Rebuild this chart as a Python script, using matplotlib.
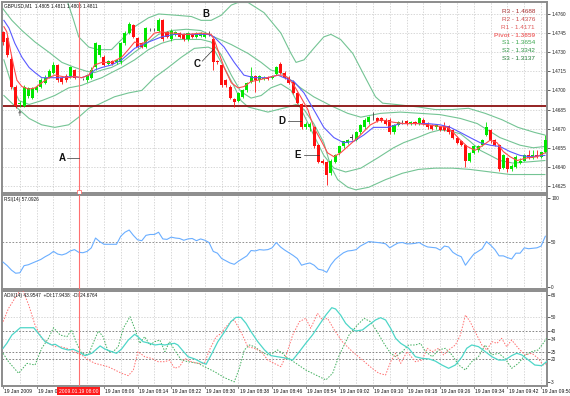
import matplotlib
matplotlib.use('Agg')
import matplotlib.pyplot as plt
import matplotlib.transforms as mtransforms
import numpy as np

# ---------------- data ----------------
O = [1.4746,1.4741,1.4725,1.4703,1.4689,1.4688,1.4696,1.4694,1.4700,1.4703,
     1.4706,1.4710,1.4714,1.4720,1.4710,1.4711,1.4711,1.4716,1.4711,1.4709,
     1.4708,1.4710,1.4718,1.4728,1.4726,1.4721,1.4723,1.4722,1.4722,1.4737,
     1.4745,1.4751,1.4741,1.4737,1.4734,1.4748,1.4748,1.4747,1.4755,1.4746,
     1.4740,1.4744,1.4745,1.4744,1.4740,1.4744,1.4742,1.4743,1.4742,1.4744,
     1.4740,1.4723,1.4720,1.4708,1.4703,1.4693,1.4692,1.4695,1.4700,1.4707,
     1.4711,1.4708,1.4709,1.4710,1.4710,1.4713,1.4721,1.4714,1.4710,1.4707,
     1.4698,1.4689,1.4671,1.4671,1.4671,1.4657,1.4645,1.4644,1.4635,1.4644,
     1.4651,1.4656,1.4659,1.4663,1.4661,1.4667,1.4671,1.4675,1.4678,1.4678,
     1.4678,1.4677,1.4677,1.4667,1.4673,1.4676,1.4676,1.4674,1.4675,1.4674,
     1.4677,1.4674,1.4673,1.4671,1.4671,1.4672,1.4672,1.4669,1.4663,1.4660,
     1.4657,1.4645,1.4651,1.4653,1.4657,1.4665,1.4669,1.4661,1.4657,1.4639,
     1.4647,1.4638,1.4640,1.4643,1.4645,1.4649,1.4647,1.4649,1.4648,1.4652]
H = [1.4747,1.4743,1.4727,1.4704,1.4692,1.4704,1.4703,1.4703,1.4704,1.4710,
     1.4712,1.4717,1.4722,1.4721,1.4711,1.4713,1.4719,1.4717,1.4712,1.4710,
     1.4713,1.4718,1.4738,1.4736,1.4728,1.4724,1.4724,1.4725,1.4738,1.4747,
     1.4754,1.4752,1.4742,1.4738,1.4750,1.4749,1.4749,1.4757,1.4756,1.4747,
     1.4748,1.4747,1.4746,1.4745,1.4746,1.4745,1.4746,1.4746,1.4746,1.4747,
     1.4742,1.4724,1.4721,1.4709,1.4704,1.4694,1.4699,1.4701,1.4707,1.4718,
     1.4712,1.4712,1.4711,1.4711,1.4712,1.4719,1.4722,1.4715,1.4711,1.4708,
     1.4699,1.4690,1.4675,1.4675,1.4672,1.4658,1.4646,1.4645,1.4646,1.4650,
     1.4656,1.4660,1.4662,1.4666,1.4668,1.4674,1.4678,1.4680,1.4683,1.4679,
     1.4679,1.4678,1.4678,1.4674,1.4676,1.4677,1.4677,1.4676,1.4676,1.4679,
     1.4678,1.4675,1.4674,1.4674,1.4672,1.4675,1.4673,1.4670,1.4664,1.4661,
     1.4658,1.4652,1.4657,1.4657,1.4662,1.4675,1.4670,1.4662,1.4658,1.4650,
     1.4648,1.4642,1.4649,1.4647,1.4650,1.4653,1.4653,1.4653,1.4652,1.4665]
Lo = [1.4736,1.4726,1.4701,1.4686,1.4687,1.4687,1.4694,1.4693,1.4699,1.4702,
      1.4705,1.4710,1.4713,1.4707,1.4705,1.4707,1.4710,1.4709,1.4709,1.4708,
      1.4707,1.4709,1.4716,1.4726,1.4719,1.4720,1.4720,1.4721,1.4721,1.4736,
      1.4744,1.4741,1.4733,1.4733,1.4733,1.4747,1.4747,1.4746,1.4739,1.4741,
      1.4739,1.4743,1.4741,1.4739,1.4739,1.4741,1.4741,1.4742,1.4741,1.4743,
      1.4716,1.4721,1.4703,1.4703,1.4693,1.4687,1.4691,1.4694,1.4699,1.4706,
      1.4699,1.4707,1.4708,1.4708,1.4709,1.4712,1.4713,1.4709,1.4705,1.4697,
      1.4689,1.4670,1.4670,1.4668,1.4655,1.4643,1.4642,1.4626,1.4634,1.4643,
      1.4649,1.4655,1.4658,1.4661,1.4660,1.4666,1.4670,1.4674,1.4677,1.4675,
      1.4675,1.4673,1.4666,1.4666,1.4672,1.4674,1.4673,1.4673,1.4673,1.4673,
      1.4673,1.4670,1.4669,1.4670,1.4668,1.4668,1.4666,1.4662,1.4658,1.4656,
      1.4640,1.4644,1.4650,1.4652,1.4656,1.4664,1.4659,1.4656,1.4637,1.4638,
      1.4636,1.4637,1.4639,1.4642,1.4645,1.4646,1.4646,1.4647,1.4647,1.4651]
C = [1.4738,1.4728,1.4703,1.4688,1.4690,1.4703,1.4702,1.4702,1.4703,1.4708,
     1.4710,1.4715,1.4720,1.4708,1.4707,1.4708,1.4718,1.4710,1.4711,1.4709,
     1.4712,1.4716,1.4737,1.4736,1.4720,1.4723,1.4721,1.4724,1.4737,1.4745,
     1.4752,1.4742,1.4734,1.4734,1.4749,1.4748,1.4748,1.4755,1.4740,1.4742,
     1.4747,1.4746,1.4742,1.4740,1.4745,1.4742,1.4745,1.4745,1.4745,1.4744,
     1.4722,1.4722,1.4704,1.4704,1.4694,1.4691,1.4698,1.4700,1.4706,1.4711,
     1.4708,1.4711,1.4710,1.4709,1.4711,1.4718,1.4714,1.4710,1.4706,1.4698,
     1.4690,1.4671,1.4674,1.4674,1.4656,1.4644,1.4643,1.4634,1.4645,1.4649,
     1.4656,1.4660,1.4661,1.4663,1.4667,1.4673,1.4677,1.4679,1.4678,1.4676,
     1.4676,1.4674,1.4667,1.4673,1.4675,1.4676,1.4674,1.4675,1.4674,1.4678,
     1.4674,1.4671,1.4670,1.4673,1.4669,1.4669,1.4667,1.4663,1.4659,1.4657,
     1.4645,1.4651,1.4656,1.4656,1.4661,1.4671,1.4660,1.4657,1.4638,1.4649,
     1.4638,1.4641,1.4648,1.4645,1.4649,1.4647,1.4649,1.4648,1.4652,1.4661]

# moving averages (bar position, price)
ma_fast_x = [0.2,0.9,1.6,2.6,3.3,4.5,6.2,7.6,9.2,10.9,12.3,14.0,15.6,17.0,18.7,20.4,21.8,23.5,25.8,28.2,
             29.8,31.3,32.9,34.6,36.0,37.7,39.3,40.8,42.4,44.1,47.1,49.5,50.2,51.4,52.6,54.3,55.9,57.3,59.0,60.6,
             63.0,65.4,66.6,67.8,69.2,70.8,72.5,73.9,75.6,77.2,78.7,80.3,82.0,84.4,87.4,89.8,92.9,95.3,98.6,101.0,
             103.3,105.7,107.1,108.8,110.4,112.3,114.2,115.9,117.5,119.0,120.6,122.3,124.6,127.0,128.9]
ma_fast_y = [1.4750,1.4746,1.4734,1.4718,1.4708,1.4703,1.4701,1.4702,1.4706,1.4710,1.4712,1.4711,1.4710,1.4711,1.4710,1.4712,1.4720,1.4722,1.4722,1.4726,
             1.4732,1.4738,1.4736,1.4740,1.4745,1.4746,1.4745,1.4745,1.4744,1.4744,1.4745,1.4744,1.4740,1.4729,1.4718,1.4706,1.4702,1.4703,1.4707,1.4708,
             1.4710,1.4712,1.4712,1.4710,1.4704,1.4695,1.4685,1.4671,1.4661,1.4651,1.4648,1.4651,1.4656,1.4663,1.4673,1.4677,1.4675,1.4674,1.4674,1.4673,
             1.4672,1.4671,1.4667,1.4661,1.4656,1.4653,1.4657,1.4661,1.4659,1.4652,1.4648,1.4645,1.4647,1.4648,1.4651]
ma_slow_x = [0.2,1.4,2.8,4.5,6.2,7.6,9.2,11.6,14.0,16.3,18.7,20.4,21.8,23.5,25.8,28.2,31.3,34.6,37.7,40.8,
             44.1,48.8,50.2,52.6,55.0,57.3,59.7,63.0,65.4,66.8,69.2,71.6,73.9,76.3,78.7,81.0,83.4,85.8,88.1,91.5,
             94.5,97.6,101.0,104.0,106.4,108.8,111.1,113.5,115.9,118.2,120.6,123.0,125.3,128.9]
ma_slow_y = [1.4755,1.4749,1.4737,1.4726,1.4718,1.4714,1.4710,1.4710,1.4710,1.4711,1.4710,1.4712,1.4716,1.4718,1.4720,1.4724,1.4733,1.4738,1.4742,1.4744,
             1.4744,1.4744,1.4742,1.4734,1.4722,1.4712,1.4710,1.4710,1.4712,1.4710,1.4707,1.4698,1.4685,1.4671,1.4663,1.4659,1.4660,1.4665,1.4671,1.4671,
             1.4674,1.4674,1.4674,1.4673,1.4671,1.4667,1.4663,1.4659,1.4657,1.4656,1.4652,1.4649,1.4648,1.4649]

# Bollinger-type envelopes (bar position, price)
wide_up_x = [9.2,12.8,15.2,16.8,18.0,20.4,22.7,25.8,28.2,31.3,34.6,37.0,41.2,44.8,47.1,49.5,51.9,54.3,55.9,58.3,
             62.1,66.1,68.5,69.7,71.6,73.9,76.3,78.0,80.3,83.2,86.2,88.6,90.3,93.4,98.8,102.8,106.9,110.7,114.7,118.7,
             122.5,126.5,128.9]
wide_up_y = [1.4798,1.4780,1.4771,1.4755,1.4742,1.4734,1.4732,1.4732,1.4740,1.4750,1.4757,1.4760,1.4759,1.4758,1.4755,1.4755,1.4759,1.4767,1.4769,1.4769,
             1.4761,1.4745,1.4729,1.4722,1.4724,1.4733,1.4742,1.4744,1.4740,1.4729,1.4710,1.4695,1.4690,1.4689,1.4687,1.4685,1.4685,1.4686,1.4682,1.4677,
             1.4671,1.4667,1.4665]
wide_lo_x = [0.2,2.1,3.8,6.2,9.2,12.3,15.6,18.0,20.4,22.7,26.5,29.8,33.0,36.0,39.3,42.4,45.5,48.8,50.2,52.6,
             55.0,56.6,58.3,60.7,63.0,65.4,67.8,69.7,71.6,73.9,76.3,78.0,79.6,82.0,83.9,87.0,91.0,95.0,98.8,102.8,
             106.9,111.1,115.9,120.6,125.3,128.9]
wide_lo_y = [1.4696,1.4690,1.4685,1.4678,1.4673,1.4671,1.4673,1.4679,1.4686,1.4689,1.4695,1.4698,1.4700,1.4710,1.4718,1.4726,1.4733,1.4734,1.4732,1.4718,
             1.4703,1.4692,1.4687,1.4685,1.4683,1.4685,1.4687,1.4689,1.4685,1.4674,1.4659,1.4640,1.4630,1.4624,1.4622,1.4624,1.4630,1.4635,1.4638,1.4639,
             1.4639,1.4638,1.4636,1.4634,1.4634,1.4634]
narrow_up_x = [0.0,2.1,4.5,7.6,10.9,14.0,17.1,19.9,21.8,23.5,25.8,28.2,31.3,34.6,37.0,40.0,43.6,47.1,50.2,54.3,
               58.3,61.4,63.7,66.1,68.5,70.8,73.9,78.0,82.0,85.1,89.8,94.5,99.3,104.0,108.8,112.8,118.2,123.0,126.1,128.9]
narrow_up_y = [1.4764,1.4755,1.4747,1.4738,1.4730,1.4722,1.4718,1.4715,1.4714,1.4716,1.4718,1.4722,1.4730,1.4738,1.4744,1.4747,1.4748,1.4747,1.4742,1.4736,
               1.4729,1.4722,1.4716,1.4714,1.4708,1.4702,1.4695,1.4688,1.4682,1.4679,1.4682,1.4683,1.4682,1.4681,1.4678,1.4674,1.4663,1.4657,1.4655,1.4656]
narrow_lo_x = [0.2,2.1,3.8,6.2,9.2,12.3,15.6,18.7,21.8,23.5,25.8,28.2,31.3,34.6,37.7,40.8,44.1,47.1,49.5,51.9,
               54.3,56.6,59.0,61.4,63.7,66.1,68.5,70.8,73.9,76.3,78.7,81.5,85.1,89.1,92.9,95.3,98.6,101.6,104.0,106.4,
               108.8,111.1,113.5,115.9,118.2,121.3,125.3,128.9]
narrow_lo_y = [1.4724,1.4704,1.4692,1.4689,1.4692,1.4696,1.4702,1.4704,1.4708,1.4710,1.4714,1.4718,1.4724,1.4732,1.4737,1.4740,1.4740,1.4740,1.4738,1.4728,
               1.4712,1.4699,1.4694,1.4696,1.4702,1.4705,1.4700,1.4686,1.4665,1.4649,1.4639,1.4636,1.4639,1.4647,1.4655,1.4659,1.4663,1.4667,1.4669,1.4668,
               1.4666,1.4660,1.4653,1.4649,1.4645,1.4643,1.4644,1.4645]

r3_level = 1.4688
pivot_names = ['R3', 'R2', 'R1', 'Pivot', 'S1', 'S2', 'S3']
pivot_values = [1.4688, 1.4376, 1.4171, 1.3859, 1.3654, 1.3342, 1.3137]
price_ticks = [1.4760, 1.4745, 1.4730, 1.4715, 1.4700, 1.4685, 1.4670, 1.4655, 1.4640, 1.4625]

rsi = [28,24,19,15.5,16,24,25,27,29,31,
       34,36.5,40,37,36,37.5,40.5,42,39,38.5,
       40,44,55,51,48,48,48,48,57,61.5,
       64,58,53,52,58,59,59,61.5,54,53.5,
       56,55,54.5,52.5,54,54.5,52,54,52.5,50,
       40,38,32,29.5,27,25.5,29,32,35,41,
       40.5,42,41.5,42,44,50,45,41.5,38.5,35.5,
       32,24.5,26,27,24.5,20,19,16.5,25,31,
       35,38.5,40.5,41,42,46,48.5,51,50.5,50,
       49.5,48.5,44,47,49.5,50,48.5,48.5,49,50,
       47,45,44.5,44,41.5,46,45,39,36,34,
       24.5,31,37,40,43,51,47,42,35,35,
       33,31.5,38,38,44,43,43.5,44,46,57]

adx_x = [0,0.9,2.1,4.1,7.3,8.4,10.0,11.6,12.4,14.0,15.5,16.7,17.9,19.5,21.1,23.1,24.2,25.8,27.0,28.2,
         29.8,31.3,32.1,33.3,34.9,36.1,37.3,38.5,39.6,40.8,41.6,42.8,44.0,45.6,47.1,48.3,49.5,51.1,52.7,54.2,
         55.4,56.6,57.8,59.0,60.6,62.2,63.7,65.3,66.9,68.9,70.5,72.0,73.6,75.2,76.8,78.2,79.1,80.3,81.5,82.7,
         83.9,85.5,87.0,88.6,89.8,91.0,92.2,93.4,94.6,96.5,98.1,99.7,101.3,102.8,104.4,106.0,107.6,109.2,110.3,111.5,
         113.1,114.7,116.3,117.9,119.4,121.0,122.2,123.4,125.0,126.5,128.1,129.3]
adx_v = [27.4,31.0,37.0,42.3,42.3,38.2,32.2,29.8,30.3,27.4,26.2,26.7,25.0,22.1,23.8,29.1,26.9,25.0,23.8,26.9,
         33.4,37.5,35.8,32.2,31.0,29.8,30.3,29.8,30.5,31.0,29.8,25.5,21.3,19.7,17.3,15.8,22.6,32.2,39.4,46.7,
         49.8,49.8,45.5,39.4,32.2,26.2,22.1,21.3,20.5,18.9,25.0,31.0,37.0,44.3,51.5,56.8,55.9,51.5,45.5,41.9,
         39.9,40.7,44.3,47.9,49.6,47.9,41.9,34.6,31.0,27.4,21.3,20.1,19.7,18.2,15.3,12.9,15.3,21.3,27.4,29.8,
         28.6,25.0,21.3,18.9,18.9,22.1,23.8,22.6,18.9,15.3,14.8,17.7]
pdi_x = [0,1.3,3.7,5.7,7.6,9.2,10.8,12.0,13.6,15.2,16.3,17.5,18.7,20.3,21.9,22.7,23.8,25.0,26.2,27.4,
         28.6,30.2,31.3,32.5,33.7,34.9,36.1,37.3,38.5,39.6,40.8,42.4,44.0,46.4,47.9,50.3,52.7,55.0,56.2,57.4,
         58.6,59.8,61.4,63.0,64.1,65.3,66.5,67.3,69.7,72.0,74.4,76.8,78.4,80.0,82.3,84.3,85.9,87.4,89.0,90.6,
         92.2,93.4,95.0,96.5,98.1,99.3,100.5,102.1,103.6,105.2,106.8,108.4,110.0,111.5,113.1,114.7,116.3,117.9,119.4,121.0,
         122.6,124.2,125.8,127.3,128.5,129.3]
pdi_v = [23.8,17.7,9.3,16.5,15.3,27.4,34.6,42.3,37.0,35.8,40.7,31.0,23.8,22.6,34.6,39.9,35.8,25.0,25.0,28.6,
         41.9,50.3,41.9,31.0,35.8,29.8,32.2,33.4,25.0,32.2,26.2,18.9,17.7,16.5,14.1,10.5,6.1,3.1,12.9,26.2,
         29.8,28.6,25.0,22.6,23.8,26.2,23.8,21.3,16.5,11.7,8.1,4.5,9.3,22.6,37.0,44.3,49.1,46.7,39.4,31.0,
         23.8,21.3,25.0,29.8,29.8,31.0,25.0,21.3,26.2,27.4,22.6,15.3,11.7,17.7,21.3,29.8,22.6,23.8,20.1,12.9,
         16.5,22.6,25.0,26.2,31.0,34.6]
mdi_x = [0,1.3,3.3,4.5,6.1,7.6,9.2,10.8,12.4,13.6,15.2,16.7,18.7,20.3,21.9,23.4,25.0,26.6,28.2,29.8,
         31.0,32.1,33.7,35.3,36.9,38.5,39.6,40.8,42.0,43.2,44.8,46.4,47.9,49.1,50.7,51.9,52.7,54.2,55.0,56.6,
         58.2,59.8,61.4,63.0,64.5,66.1,67.3,68.9,70.5,72.0,73.2,74.8,76.0,77.2,78.8,80.7,83.1,85.5,87.8,89.4,
         91.0,92.2,93.4,94.6,96.1,98.1,99.7,100.9,102.1,103.6,104.8,106.0,107.6,108.8,110.0,111.1,112.7,113.9,115.1,116.3,
         117.5,118.6,119.8,121.0,122.6,124.2,125.8,127.3,128.5,129.3]
mdi_v = [46.7,56.3,66.0,70.8,58.8,44.3,34.6,31.0,28.6,28.6,27.4,25.0,22.6,18.9,16.5,15.3,14.1,11.7,9.3,7.6,
         11.7,25.0,21.3,20.1,17.7,17.7,18.9,12.9,14.1,20.1,17.7,16.5,16.5,26.2,35.8,38.2,41.9,46.7,47.9,39.4,
         28.6,27.4,25.0,18.9,16.5,14.1,22.0,37.0,46.7,49.1,41.9,52.7,47.9,49.1,40.7,32.2,25.0,18.9,12.9,9.3,
         8.1,17.7,23.8,16.5,25.0,17.7,18.9,27.4,25.0,27.4,22.6,26.2,29.8,37.0,51.5,46.7,37.0,29.8,26.2,32.2,
         31.0,34.6,28.6,33.4,27.4,22.6,23.8,20.1,15.3,16.5]

time_labels = ['19 Jan 2009', '19 Jan 07', '', '19 Jan 08:06', '19 Jan 08:14', '19 Jan 08:22',
               '19 Jan 08:30', '19 Jan 08:38', '19 Jan 08:46', '19 Jan 08:54', '19 Jan 09:02',
               '19 Jan 09:10', '19 Jan 09:18', '19 Jan 09:26', '19 Jan 09:34', '19 Jan 09:42', '19 Jan 09:50']
cursor_bar = 18
cursor_label = '2009.01.19 08:00'

# ---------------- figure ----------------
plt.rcParams['font.family'] = ['Liberation Sans', 'DejaVu Sans']
fig = plt.figure(figsize=(5.7, 3.96), dpi=100)
fig.patch.set_facecolor('white')
L, W = 2 / 570, 545 / 570
ax1 = fig.add_axes([L, 1 - 193 / 396, W, 191 / 396])
ax2 = fig.add_axes([L, 1 - 289 / 396, W, 94 / 396])
ax3 = fig.add_axes([L, 1 - 386 / 396, W, 95 / 396])

n = len(O)
XL = (-0.25, 129.4)
GRID = '#c8c8c8'
SPINE = '#8c8c8c'
BAND = '#74c494'
SMALL = 3.4
CURSOR = '#ff7070'

for ax in (ax1, ax2, ax3):
    ax.set_xlim(*XL)
    for s in ax.spines.values():
        s.set_color(SPINE)
        s.set_linewidth(1.4)
    ax.yaxis.tick_right()
    ax.tick_params(axis='y', labelsize=SMALL, length=2, pad=1, colors='#222222', width=0.5)
    ax.tick_params(axis='x', length=0)
    for k in range(4, n, 4):
        ax.axvline(k, color=GRID, lw=0.5, ls=(0, (2, 2)), zorder=0)
    ax.axvline(cursor_bar, color=CURSOR, lw=0.8, zorder=6)
    ax.set_xticks([])

# ----- main price panel -----
ax1.set_ylim(1.46195, 1.47694)
ax1.set_yticks(price_ticks)
ax1.set_yticklabels(['%.4f' % v for v in price_ticks])
for v in price_ticks:
    ax1.axhline(v, color=GRID, lw=0.5, ls=(0, (2, 2)), zorder=0)

ax1.plot(wide_up_x, wide_up_y, color=BAND, lw=0.8, zorder=2)
ax1.plot(wide_lo_x, wide_lo_y, color=BAND, lw=0.8, zorder=2)
ax1.plot(narrow_up_x, narrow_up_y, color=BAND, lw=0.8, zorder=2)
ax1.plot(narrow_lo_x, narrow_lo_y, color=BAND, lw=0.8, zorder=2)
ax1.axhline(r3_level, color='#8b1010', lw=1.3, zorder=2)

for i in range(n):
    o, h, l, c = O[i], H[i], Lo[i], C[i]
    if c > o:
        col = '#00e600'
    elif c < o:
        col = '#ff1010'
    else:
        col = '#404040'
    ax1.vlines(i, l, h, color=col, lw=0.6, zorder=3)
    ax1.bar(i, max(abs(c - o), 0.000012), bottom=min(o, c), width=0.72,
            color=col, lw=0, zorder=4)

ax1.plot(ma_slow_x, ma_slow_y, color='#5a5aff', lw=0.8, zorder=5)
ax1.plot(ma_fast_x, ma_fast_y, color='#ff4a4a', lw=0.8, zorder=5)

ax1.annotate('', xy=(4, 1.4687), xytext=(4, 1.4678),
             arrowprops=dict(arrowstyle='-|>', color='#777777', lw=0.6, mutation_scale=4), zorder=6)

# small square handle of the cursor line at the bottom of the price panel
ax1.plot([cursor_bar], [0.006], marker='s', ms=2.2, mfc='white', mec=CURSOR, mew=0.6,
         transform=mtransforms.blended_transform_factory(ax1.transData, ax1.transAxes),
         clip_on=False, zorder=8)

ax1.text(0.004, 0.992, 'GBPUSD,M1  1.4805 1.4811 1.4805 1.4811', transform=ax1.transAxes,
         fontsize=SMALL, va='top', ha='left', color='#111111')

# letter annotations
lab_kw = dict(fontsize=7, fontweight='bold', color='#111111', va='center', ha='center', zorder=7)
ax1.text(14.0, 1.4647, 'A', **lab_kw)
ax1.plot([15.3, 18.0], [1.4647, 1.4647], color='#333333', lw=0.5, zorder=7)
ax1.text(48.3, 1.4760, 'B', **lab_kw)
ax1.text(46.2, 1.4721, 'C', **lab_kw)
ax1.plot([47.4, 50.0], [1.4723, 1.4732], color='#333333', lw=0.5, zorder=7)
ax1.text(66.3, 1.4676, 'D', **lab_kw)
ax1.plot([67.8, 70.8], [1.4676, 1.4676], color='#333333', lw=0.5, zorder=7)
ax1.text(70.1, 1.4649, 'E', **lab_kw)
ax1.plot([71.6, 75.1], [1.4649, 1.4649], color='#333333', lw=0.5, zorder=7)

# pivot text block
piv_cols = ['#a83232', '#cc4c4c', '#e05a5a', '#f07070', '#3aa64e', '#2e9444', '#227a36']
for k, (nm, val, col) in enumerate(zip(pivot_names, pivot_values, piv_cols)):
    ax1.text(0.978, 1 - (12 + 7.7 * k - 2) / 191, '%s - %.4f' % (nm, val),
             transform=ax1.transAxes, fontsize=4.6, color=col, ha='right', va='center',
             fontweight='bold' if nm == 'Pivot' else 'normal')

# ----- RSI panel -----
ax2.set_ylim(-2.2, 103.3)
ax2.set_yticks([0, 50, 100])
ax2.set_yticklabels(['0', '50', '100'])
ax2.axhline(50, color='#808080', lw=0.6, ls=(0, (2, 2)), zorder=1)
ax2.plot(range(n), rsi, color='#6aaeff', lw=0.8, zorder=3)
ax2.text(0.004, 0.975, 'RSI(14) 57.0926', transform=ax2.transAxes, fontsize=SMALL,
         va='top', ha='left', color='#111111')

# ----- ADX panel -----
ax3.set_ylim(0.1, 68.9)
adx_ticks = [3, 20, 25, 34, 40, 50, 66]
ax3.set_yticks(adx_ticks)
ax3.set_yticklabels([str(t) for t in adx_ticks])
for lv in (50, 34):
    ax3.axhline(lv, color=GRID, lw=0.5, ls=(0, (2, 2)), zorder=0)
for lv in (40, 25, 20):
    ax3.axhline(lv, color='#707070', lw=0.6, ls=(0, (2, 2)), zorder=1)
ax3.plot(pdi_x, pdi_v, color='#3fae5c', lw=0.7, ls=(0, (1.5, 1.5)), zorder=3)
ax3.plot(mdi_x, mdi_v, color='#ff6e6e', lw=0.7, ls=(0, (1.5, 1.5)), zorder=3)
ax3.plot(adx_x, adx_v, color='#4ed6c8', lw=0.9, zorder=4)
ax3.text(0.004, 0.975, 'ADX(14) 43.9547  +DI:17.9438  -DI:24.6764', transform=ax3.transAxes,
         fontsize=SMALL, va='top', ha='left', color='#111111')

# x labels
tick_pos = [8 * k for k in range(len(time_labels)) if time_labels[k]]
tick_lab = [t for t in time_labels if t]
trans = mtransforms.blended_transform_factory(ax3.transData, ax3.transAxes)
for p, t in zip(tick_pos, tick_lab):
    ax3.plot([p, p], [0, -0.025], color='#555555', lw=0.5, transform=trans, clip_on=False)
    ax3.text(p + 0.25, -0.03, t, transform=trans, fontsize=3.6, ha='left', va='top',
             color='#111111', clip_on=False)
ax3.text(cursor_bar, -0.03, cursor_label, transform=trans, fontsize=3.6, ha='center', va='top',
         color='white', clip_on=False, zorder=10,
         bbox=dict(facecolor='#ff1a1a', edgecolor='none', pad=1.2))

fig.savefig('out.png', dpi=100, facecolor='white')
